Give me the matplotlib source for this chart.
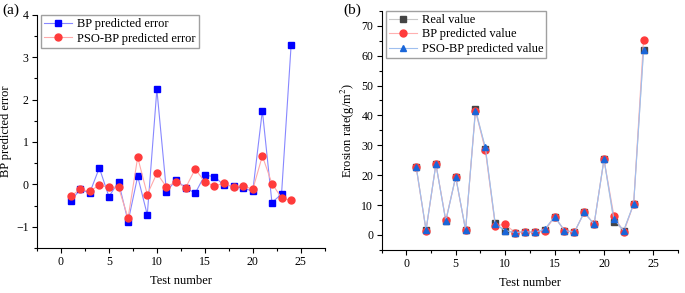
import numpy as np
import matplotlib
matplotlib.use('Agg')
import matplotlib.pyplot as plt
from matplotlib.ticker import MultipleLocator, AutoMinorLocator

plt.rcParams['font.family'] = ['Liberation Serif', 'DejaVu Serif']
plt.rcParams['mathtext.fontset'] = 'stix'

### data
test_no = list(range(1, 25))

# (a) prediction errors
bp_err = [-0.40, -0.12, -0.20, 0.39, -0.29, 0.06, -0.88, 0.19, -0.72, 2.24,
          -0.17, 0.10, -0.08, -0.21, 0.22, 0.18, -0.02, -0.04, -0.09, -0.16,
          1.74, -0.43, -0.23, 3.29]
pso_err = [-0.28, -0.12, -0.16, -0.02, -0.07, -0.07, -0.79, 0.64, -0.24, 0.26,
           -0.06, 0.06, -0.08, 0.36, 0.06, -0.04, 0.03, -0.07, -0.03, -0.12,
           0.67, 0.02, -0.32, -0.38]

# (b) erosion rate
real_val = [22.9, 1.7, 23.7, 4.8, 19.5, 1.7, 42.3, 28.8, 3.9, 1.3,
            0.8, 1.1, 0.9, 1.7, 6.1, 1.5, 0.9, 7.6, 3.6, 25.3,
            4.5, 1.5, 10.4, 61.9]
bp_val = [22.7, 1.5, 23.7, 5.0, 19.3, 1.7, 41.5, 28.4, 3.1, 3.6,
          0.8, 1.1, 0.9, 1.2, 6.1, 1.5, 0.9, 7.6, 3.6, 25.3,
          6.4, 1.0, 10.4, 65.3]
pso_val = [22.9, 1.7, 23.7, 4.6, 19.5, 1.7, 41.6, 29.3, 3.6, 1.5,
           0.8, 1.1, 0.9, 1.9, 6.1, 1.5, 0.9, 7.6, 3.6, 25.3,
           5.3, 1.5, 10.4, 61.9]

fig = plt.figure(figsize=(6.85, 2.93), dpi=100)
ax1 = fig.add_axes([0.054, 0.154, 0.420, 0.795])
ax2 = fig.add_axes([0.557, 0.147, 0.433, 0.816])


def style(ax):
    ax.spines['top'].set_visible(False)
    ax.spines['right'].set_visible(False)
    ax.tick_params(which='both', direction='out', labelsize=8.5, width=0.8, pad=2.5)
    ax.tick_params(which='major', length=3.5)
    ax.tick_params(which='minor', length=2)
    ax.xaxis.set_major_locator(MultipleLocator(5))
    ax.xaxis.set_minor_locator(AutoMinorLocator(2))
    ax.yaxis.set_minor_locator(AutoMinorLocator(2))
    ax.set_xlim(-2.5, 27.5)
    ax.set_xlabel('Test number', fontsize=9, labelpad=5)


legend_kw = dict(loc='upper left', bbox_to_anchor=(0.015, 1.0), fontsize=9,
                 frameon=True, fancybox=False, edgecolor='#888888',
                 labelspacing=0.2, handlelength=2.2, handletextpad=0.4,
                 borderpad=0.25, borderaxespad=0.0)

# (a)
ax1.plot(test_no, bp_err, color='#8888ff', lw=0.8, marker='s', ms=4.5,
         mfc='#0000ff', mec='#0000ff', label='BP predicted error')
ax1.plot(test_no, pso_err, color='#ffaaaa', lw=0.8, marker='o', ms=5,
         mfc='#ff3b3b', mec='#ff3b3b', label='PSO-BP predicted error')
style(ax1)
ax1.set_ylim(-1.5, 4)
ax1.yaxis.set_major_locator(MultipleLocator(1))
ax1.set_ylabel('BP predicted error', fontsize=9, labelpad=3)
ax1.legend(**legend_kw)
fig.text(0.003, 0.965, '(a)', fontsize=11, va='center')

# (b)
ax2.plot(test_no, real_val, color='#c8c8c8', lw=0.8, marker='s', ms=4.5,
         mfc='#444444', mec='#444444', label='Real value')
ax2.plot(test_no, bp_val, color='#ffb0b0', lw=0.8, marker='o', ms=5,
         mfc='#ff3b3b', mec='#ff3b3b', label='BP predicted value')
ax2.plot(test_no, pso_val, color='#9fbfef', lw=0.8, marker='^', ms=5,
         mfc='#1a66d9', mec='#1a66d9', label='PSO-BP predicted value')
style(ax2)
ax2.set_ylim(-5, 75)
ax2.yaxis.set_major_locator(MultipleLocator(10))
ax2.set_ylabel('Erosion rate(g/m$^2$)', fontsize=9, labelpad=3)
ax2.legend(**legend_kw)
fig.text(0.501, 0.965, '(b)', fontsize=11, va='center')

fig.savefig('out.png', dpi=100)
